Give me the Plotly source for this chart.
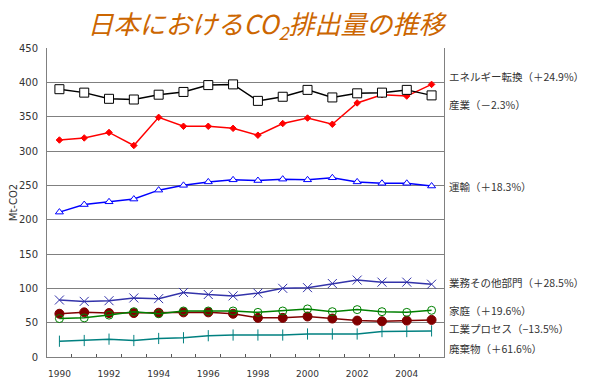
import plotly.graph_objects as go

years = list(range(1990, 2006))
energy = [390, 385, 376, 375, 382, 386, 396, 397, 373, 379, 389, 378, 384, 385, 389, 381]
industry = [316, 319, 327, 308, 349, 336, 336, 333, 323, 340, 348, 339, 370, 382, 380, 397]
transport = [211, 222, 226, 230, 243, 250, 255, 258, 257, 259, 258, 261, 255, 253, 253, 249]
business = [83, 81, 82, 86, 85, 94, 91, 89, 93, 100, 101, 107, 112, 109, 109, 106]
household = [56, 57, 61, 66, 63, 67, 67, 67, 65, 67, 70, 66, 69, 66, 65, 68]
process = [63, 65, 64, 64, 64.5, 65, 65, 63, 57, 57, 59, 56, 53, 52, 53, 54]
waste = [23, 24, 26, 24, 27, 28, 31, 32, 32, 32, 33.5, 33.5, 33.5, 37, 37, 38]

labels = ["エネルギー転換（＋24.9%）", "産業（－2.3%）", "運輸（＋18.3%）",
          "業務その他部門（＋28.5%）", "家庭（＋19.6%）", "工業プロセス（−13.5%）", "廃棄物（＋61.6%）"]
label_y = [408, 367, 249, 108, 67, 41, 13]
xtick_vals = [1990, 1992, 1994, 1996, 1998, 2000, 2002, 2004]
xtick_text = ["1990", "1992", "1994", "1996", "1998", "2000", "2002", "2004"]

fig = go.Figure()

def add(y, color, symbol, size, mfill, mline=1):
    fig.add_trace(go.Scatter(
        x=years, y=y, mode="lines+markers",
        line=dict(color=color, width=1.5),
        marker=dict(symbol=symbol, size=size, color=mfill,
                    line=dict(color=color, width=mline)),
        showlegend=False, hoverinfo="skip"))

add(waste, "#008080", "line-ns", 8, "#008080", 1)
add(process, "#800000", "circle", 9, "#800000")
add(household, "#008000", "circle-open", 8, "#008000")
add(business, "#3333AA", "x-thin", 9, "#3333AA", 1)
add(transport, "#0000FF", "triangle-up", 7, "white")
add(industry, "#FF0000", "diamond", 5, "#FF0000")
add(energy, "#000000", "square", 9, "white")

for t, yv in zip(labels, label_y):
    fig.add_annotation(x=1, xref="paper", y=yv, yref="y", text=t, showarrow=False,
                       xanchor="left", yanchor="middle", xshift=3,
                       font=dict(family="Noto Sans CJK JP", size=10.5, color="#333333"))

W, H = 592, 382
fig.update_layout(
    width=W, height=H,
    margin=dict(l=39, r=156, t=40, b=33, autoexpand=False),
    paper_bgcolor="white", plot_bgcolor="white",
    title=dict(text="<i>日本におけるCO<sub>2</sub>排出量の推移</i>",
               x=258/W, xanchor="center", y=1-17/H, yanchor="middle",
               font=dict(family="Noto Sans CJK JP", size=26, color="#CC6600")),
    xaxis=dict(range=[1989.5, 2005.5], tickvals=xtick_vals, ticktext=xtick_text,
               ticks="", showgrid=False, showline=True, linecolor="#808080", linewidth=1,
               tickfont=dict(family="DejaVu Sans", size=9, color="#333333"),
               ticklabelstandoff=8, automargin=False,
               minor=dict(tickvals=[y + 0.5 for y in range(1990, 2005)], ticks="inside",
                          ticklen=3, tickcolor="#555555", showgrid=False),
               zeroline=False, fixedrange=True),
    yaxis=dict(range=[0, 450], dtick=50, showgrid=True, gridcolor="#808080", gridwidth=1,
               showline=True, linecolor="#808080", linewidth=1, mirror=True,
               ticks="", tickfont=dict(family="DejaVu Sans", size=10, color="#333333"),
               ticklabelstandoff=6, zeroline=False, automargin=False,
               title=dict(text="Mt-CO2", standoff=7,
                          font=dict(family="DejaVu Sans", size=10, color="#333333"))),
)

fig.write_html("out.html")
